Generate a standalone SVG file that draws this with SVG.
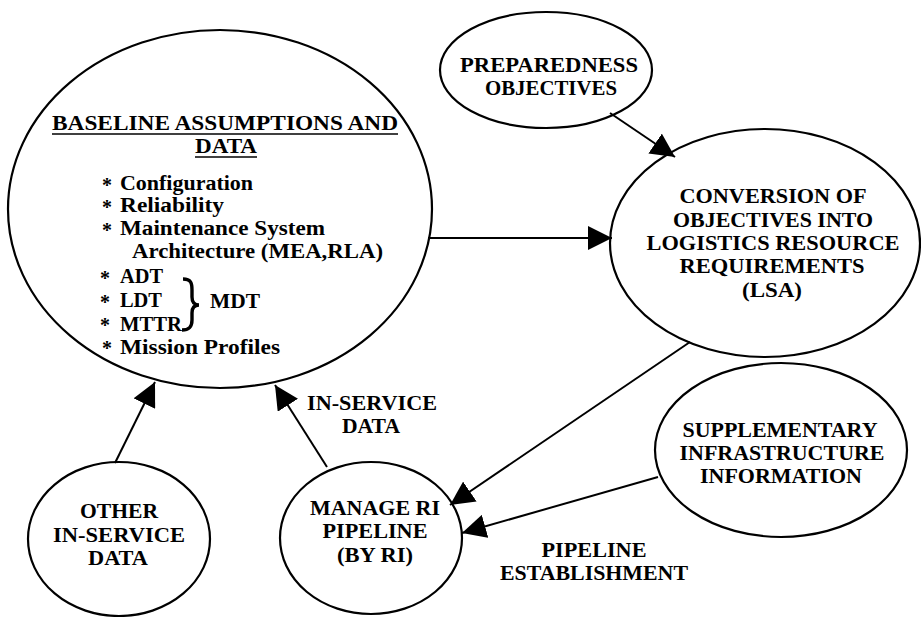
<svg xmlns="http://www.w3.org/2000/svg" width="921" height="617" viewBox="0 0 921 617">
  <style>
    .node { fill: none; stroke: #000; stroke-width: 2.2; }
    .edge { fill: none; stroke: #000; stroke-width: 2; }
    text { font-family: "Liberation Serif", "Times New Roman", serif; font-weight: bold; fill: #000; }
    .c { text-anchor: middle; font-size: 22px; }
    .l { font-size: 20px; }
  </style>
  <defs>
    <marker id="arrow" viewBox="0 0 20 20" refX="20" refY="10" markerWidth="24" markerHeight="24" markerUnits="userSpaceOnUse" orient="auto">
      <path d="M0,0 L20,10 L0,20 z" fill="#000"/>
    </marker>
  </defs>
  <rect width="921" height="617" fill="#fff"/>

  <!-- connectors -->
  <g id="connectors">
    <line class="edge" x1="428" y1="238" x2="612" y2="238" marker-end="url(#arrow)"/>
    <line class="edge" x1="610" y1="113" x2="675" y2="157" marker-end="url(#arrow)"/>
    <line class="edge" x1="690" y1="342" x2="450" y2="505" marker-end="url(#arrow)"/>
    <line class="edge" x1="658" y1="477" x2="462" y2="533" marker-end="url(#arrow)"/>
    <line class="edge" x1="115" y1="463" x2="155" y2="382" marker-end="url(#arrow)"/>
    <line class="edge" x1="327" y1="467" x2="275" y2="385" marker-end="url(#arrow)"/>
    <text class="c" x="372" y="410" textLength="130" lengthAdjust="spacingAndGlyphs">IN-SERVICE</text>
    <text class="c" x="371" y="433" textLength="58" lengthAdjust="spacingAndGlyphs">DATA</text>
    <text class="c" x="594" y="557" textLength="105" lengthAdjust="spacingAndGlyphs">PIPELINE</text>
    <text class="c" x="594" y="580" textLength="188" lengthAdjust="spacingAndGlyphs">ESTABLISHMENT</text>
  </g>

  <!-- baseline assumptions -->
  <g id="baseline">
    <ellipse class="node" cx="220" cy="209" rx="212" ry="179"/>
    <text class="c" x="225" y="130" font-size="21" textLength="346" lengthAdjust="spacingAndGlyphs">BASELINE ASSUMPTIONS AND</text>
    <line x1="52" y1="134" x2="398" y2="134" stroke="#000" stroke-width="1.6"/>
    <text class="c" x="226" y="153" font-size="21" textLength="62" lengthAdjust="spacingAndGlyphs">DATA</text>
    <line x1="195" y1="157" x2="257" y2="157" stroke="#000" stroke-width="1.6"/>
    <g class="l">
      <text x="102" y="192">*</text><text x="120" y="190" textLength="133" lengthAdjust="spacingAndGlyphs">Configuration</text>
      <text x="102" y="214">*</text><text x="120" y="212" textLength="104" lengthAdjust="spacingAndGlyphs">Reliability</text>
      <text x="102" y="237">*</text><text x="120" y="235" textLength="205" lengthAdjust="spacingAndGlyphs">Maintenance System</text>
      <text x="132" y="258" textLength="251" lengthAdjust="spacingAndGlyphs">Architecture (MEA,RLA)</text>
      <text x="100" y="285">*</text><text x="120" y="283" textLength="43" lengthAdjust="spacingAndGlyphs">ADT</text>
      <text x="100" y="309">*</text><text x="120" y="307" textLength="42" lengthAdjust="spacingAndGlyphs">LDT</text>
      <text x="100" y="332">*</text><text x="120" y="331" textLength="62" lengthAdjust="spacingAndGlyphs">MTTR</text>
      <text x="102" y="355">*</text><text x="120" y="354" textLength="160" lengthAdjust="spacingAndGlyphs">Mission Profiles</text>
      <text x="210" y="308" textLength="50" lengthAdjust="spacingAndGlyphs">MDT</text>
    </g>
    <!-- brace grouping ADT, LDT, MTTR -->
    <path d="M183,279 C191,279 192,283 192,290 L192,297 C192,302 194,305 199,305 C194,305 192,308 192,313 L192,320 C192,327 189,330 182,330" fill="none" stroke="#000" stroke-width="3.4"/>
  </g>

  <g id="preparedness">
    <ellipse class="node" cx="546" cy="70" rx="106" ry="58"/>
    <text class="c" x="549" y="72" textLength="178" lengthAdjust="spacingAndGlyphs">PREPAREDNESS</text>
    <text class="c" x="551" y="95" textLength="132" lengthAdjust="spacingAndGlyphs">OBJECTIVES</text>
  </g>

  <g id="conversion">
    <ellipse class="node" cx="765" cy="243" rx="155" ry="114"/>
    <text class="c" x="773" y="203" textLength="187" lengthAdjust="spacingAndGlyphs">CONVERSION OF</text>
    <text class="c" x="773" y="227" textLength="200" lengthAdjust="spacingAndGlyphs">OBJECTIVES INTO</text>
    <text class="c" x="773" y="250" textLength="253" lengthAdjust="spacingAndGlyphs">LOGISTICS RESOURCE</text>
    <text class="c" x="772" y="273" textLength="185" lengthAdjust="spacingAndGlyphs">REQUIREMENTS</text>
    <text class="c" x="772" y="297" textLength="60" lengthAdjust="spacingAndGlyphs">(LSA)</text>
  </g>

  <g id="supplementary">
    <ellipse class="node" cx="781" cy="450" rx="126" ry="87"/>
    <text class="c" x="780" y="437" textLength="195" lengthAdjust="spacingAndGlyphs">SUPPLEMENTARY</text>
    <text class="c" x="782" y="460" textLength="205" lengthAdjust="spacingAndGlyphs">INFRASTRUCTURE</text>
    <text class="c" x="781" y="483" textLength="162" lengthAdjust="spacingAndGlyphs">INFORMATION</text>
  </g>

  <g id="other-in-service">
    <ellipse class="node" cx="119" cy="539" rx="91" ry="77"/>
    <text class="c" x="119" y="518" textLength="78" lengthAdjust="spacingAndGlyphs">OTHER</text>
    <text class="c" x="119" y="542" textLength="132" lengthAdjust="spacingAndGlyphs">IN-SERVICE</text>
    <text class="c" x="118" y="565" textLength="60" lengthAdjust="spacingAndGlyphs">DATA</text>
  </g>

  <g id="manage-ri">
    <ellipse class="node" cx="371" cy="538" rx="91" ry="76"/>
    <text class="c" x="375" y="515" textLength="130" lengthAdjust="spacingAndGlyphs">MANAGE RI</text>
    <text class="c" x="375" y="538" textLength="105" lengthAdjust="spacingAndGlyphs">PIPELINE</text>
    <text class="c" x="375" y="562" textLength="76" lengthAdjust="spacingAndGlyphs">(BY RI)</text>
  </g>
</svg>
